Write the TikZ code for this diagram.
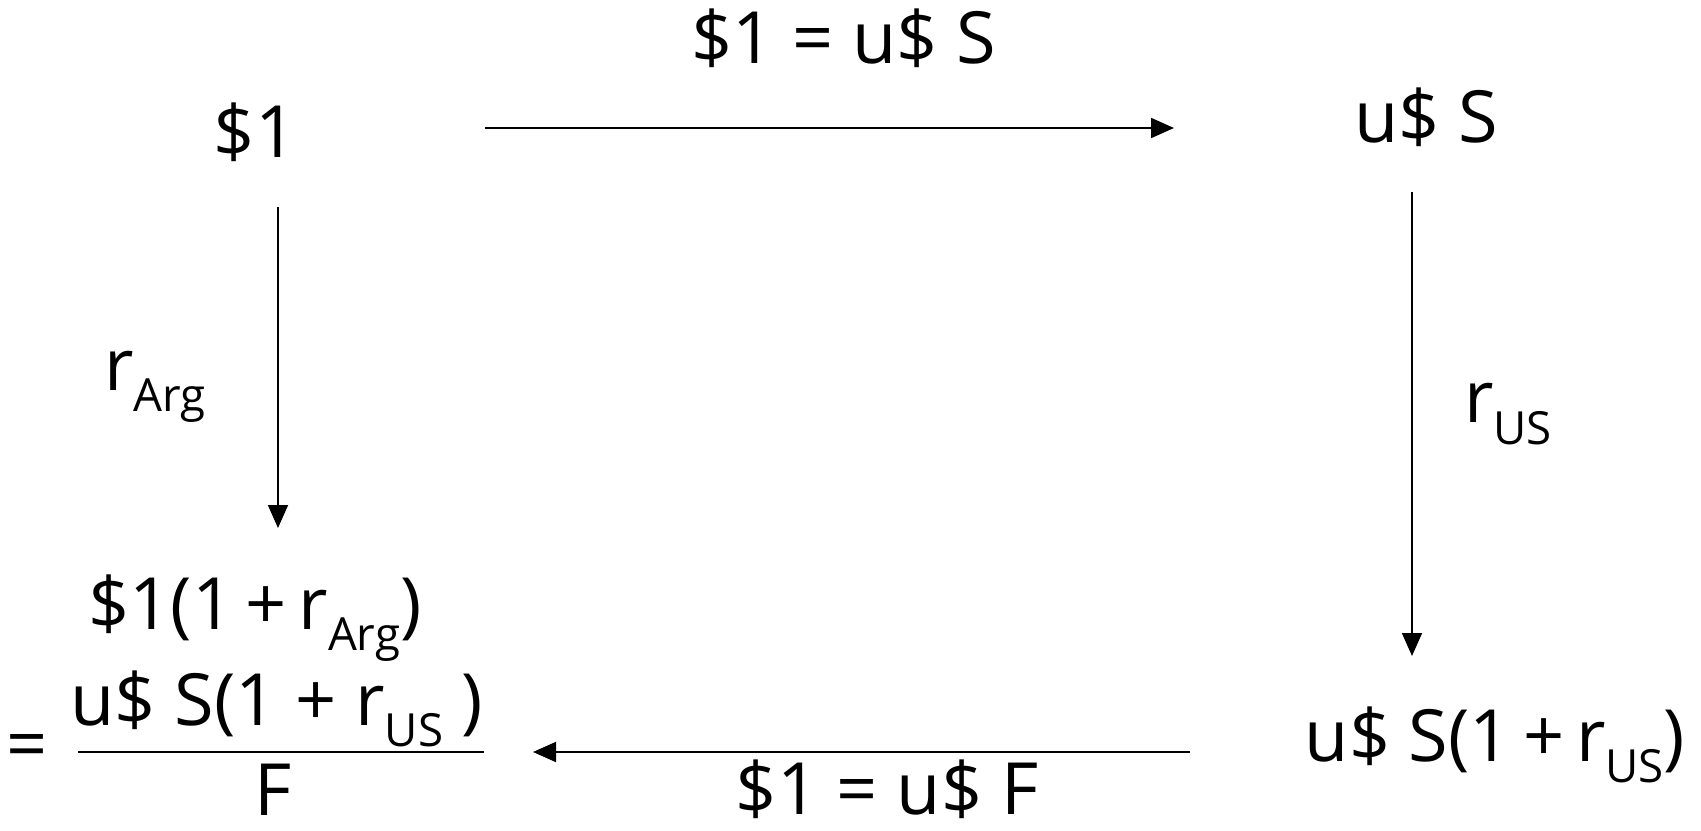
\documentclass[tikz,border=0pt]{standalone}
\usepackage{fontspec}
\setmainfont{Open Sans}
\usetikzlibrary{arrows.meta,calc}
\newcommand{\lowsub}[1]{\raisebox{-0.3em}{\fontsize{26}{28}\selectfont #1}}

\begin{document}
\begin{tikzpicture}[x=0.02cm,y=-0.02cm,
  term/.style={inner sep=0pt,font=\fontsize{41}{46}\selectfont},
  lab/.style={inner sep=0pt,font=\fontsize{41}{46}\selectfont},
  ev/.style={-{Triangle[length=0.46cm,width=0.4cm]},line width=1pt}]

  \useasboundingbox (0,0) rectangle (1701,831);

  % the four corners
  \node[term] (one)  at (255,132) {\$1};
  \node[term] (usS)  at (1426,117) {u\$ S};
  \node[term] (usSR) at (1495,745) {u\$ S(1\,+\,r\lowsub{US})};
  \node[term] (oneR) at (255,618) {\$1(1\,+\,r\lowsub{Arg})};

  % fraction under $1(1+r)
  \node[term] (eq)  at (27,752)  {=};
  \node[term] (num) at (277,709) {u\$ S(1 + r\lowsub{US} )};
  \node[term] (den) at (273,790) {F};
  \coordinate (barL) at (78,752);
  \coordinate (barR) at (484,752);
  \draw[line width=1.1pt] (barL) -- (barR);

  % arrow ends
  \coordinate (t1) at (485,128);  \coordinate (t2) at (1174,128);
  \coordinate (r1) at (1412,192); \coordinate (r2) at (1412,656);
  \coordinate (b1) at (1190,752); \coordinate (b2) at (533,752);
  \coordinate (l1) at (278,207);  \coordinate (l2) at (278,528);

  \draw[ev] (t1) -- (t2);
  \draw[ev] (r1) -- (r2);
  \draw[ev] (b1) -- (b2);
  \draw[ev] (l1) -- (l2);

  % labels
  \node[lab] (tlab) at (844,38)  {\$1 = u\$ S};
  \node[lab] (blab) at (887,789) {\$1 = u\$ F};
  \node[lab] (rArg) at (155,387) {r\lowsub{Arg}};
  \node[lab] (rUS)  at (1508,414) {r\lowsub{US}};
\end{tikzpicture}
\end{document}
